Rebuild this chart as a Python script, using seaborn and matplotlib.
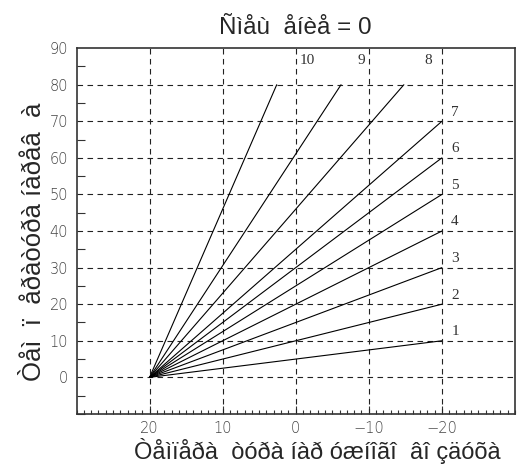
import matplotlib
matplotlib.use("Agg")
import matplotlib.pyplot as plt
import seaborn as sns
import pandas as pd
from matplotlib.ticker import MultipleLocator

curves = ["1", "2", "3", "4", "5", "6", "7", "8", "9", "10"]
start_temp = 20
start_value = 0
end_temp = [-20, -20, -20, -20, -20, -20, -20, -14.8, -6.2, 2.6]
end_value = [10, 20, 30, 40, 50, 60, 70, 80, 80, 80]
label_x = [-21.8, -21.8, -21.8, -21.8, -21.8, -21.8, -21.8, -18.1, -9.0, -1.6]
label_y = [12.5, 22.5, 32.5, 42.5, 52.5, 62.5, 72.5, 86.5, 86.7, 86.7]

x_ticks = [20, 10, 0, -10, -20]
x_tick_labels = ["20", "10", "0", "\u221210", "\u221220"]
y_ticks = [0, 10, 20, 30, 40, 50, 60, 70, 80, 90]

title = "Ñìåù  åíèå = 0"
xlabel = "Òåìïåðà  òóðà íàð óæíîãî  âî çäóõà"
ylabel = "Òåì  ï  åðàòóðà íàðåâ  à"

rows = []
for c, ex, ey in zip(curves, end_temp, end_value):
    rows.append({"curve": c, "t": start_temp, "v": start_value})
    rows.append({"curve": c, "t": ex, "v": ey})
df = pd.DataFrame(rows)

sns.set_theme(style="white")
plt.rcParams["font.family"] = ["DejaVu Sans"]

fig = plt.figure(figsize=(5.17, 4.72), dpi=100)
ax = fig.add_axes([0.148, 0.123, 0.848, 0.775])

sns.lineplot(data=df, x="t", y="v", units="curve", estimator=None,
             color="black", linewidth=0.8, ax=ax, legend=False, zorder=3)

ax.set_xlim(30, -30)
ax.set_ylim(-10, 90)

for gx in x_ticks:
    ax.axvline(gx, color="#222222", linestyle=(0, (5, 4)), linewidth=0.8, zorder=1)
for gy in range(0, 90, 10):
    ax.axhline(gy, color="#222222", linestyle=(0, (5, 4)), linewidth=0.8, zorder=1)

ax.set_xticks(x_ticks)
ax.set_xticklabels(x_tick_labels)
ax.set_yticks(y_ticks)
ax.xaxis.set_minor_locator(MultipleLocator(1))
ax.yaxis.set_minor_locator(MultipleLocator(5))
ax.tick_params(axis="x", which="major", direction="in", length=6, width=0.8,
               color="#333333", labelsize=10.5, labelcolor="#444444", pad=5,
               bottom=True, top=False)
ax.tick_params(axis="x", which="minor", direction="in", length=3, width=0.8,
               color="#333333", bottom=True, top=False)
ax.tick_params(axis="y", which="major", direction="in", length=0, width=0.8,
               color="#333333", labelsize=10.5, labelcolor="#444444", pad=6,
               left=True, right=False)
ax.tick_params(axis="y", which="minor", direction="in", length=6, width=0.8,
               color="#333333", left=True, right=False)
for lab in ax.get_xticklabels() + ax.get_yticklabels():
    lab.set_fontweight("light")

for s in ax.spines.values():
    s.set_color("#333333")
    s.set_linewidth(1.2)

for c, lx, ly in zip(curves, label_x, label_y):
    ax.text(lx, ly, c, fontsize=11, family="Liberation Serif", color="#333333",
            ha="center", va="center")

ax.set_title(title, fontsize=17.5, family="Liberation Sans", pad=10)
ax.set_xlabel(xlabel, fontsize=17, family="Liberation Sans", labelpad=2)
ax.set_ylabel(ylabel, fontsize=18.5, family="Liberation Sans", labelpad=2)
ax.xaxis.set_label_coords(0.55, -0.065)
ax.yaxis.set_label_coords(-0.07, 0.47)

fig.savefig("out.png", dpi=100)
